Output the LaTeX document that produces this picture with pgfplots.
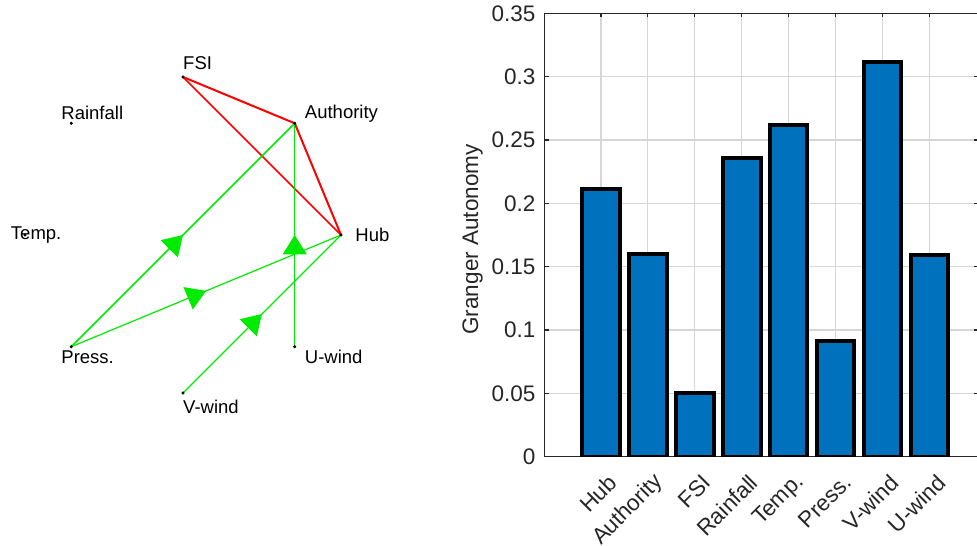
\documentclass[border=0pt]{standalone}
\usepackage{pgfplots}
\pgfplotsset{compat=1.18}
\usepackage{fontspec}
\setmainfont{Liberation Sans}
\usetikzlibrary{arrows.meta,decorations.markings}

\definecolor{barblue}{RGB}{0,114,189}
\definecolor{axgray}{RGB}{38,38,38}
\definecolor{gridgray}{RGB}{214,214,214}
\definecolor{edgered}{RGB}{255,0,0}
\definecolor{edgegreen}{RGB}{0,235,0}

% grid below the bars, ticks and axis lines above them
\pgfplotsset{
  layers/gridbelow/.define layer set={
    axis background,axis grid,pre main,main,axis ticks,axis lines,
    axis tick labels,axis descriptions,axis foreground}{},
}

\tikzset{
  midarrow/.style={postaction={decorate},
    decoration={markings,
      mark=at position 0.5 with {\arrow{Triangle[length=19.5pt,width=24pt]}}}},
  nodelabel/.style={anchor=west, inner sep=0pt, text=black,
    font=\fontsize{18.5}{22}\selectfont},
}

\begin{document}
\begin{tikzpicture}

% ---------------- causal network, nodes on the unit circle ----------------
\begin{axis}[
  at={(25pt,153pt)}, anchor=south west, scale only axis,
  width=316pt, height=316pt,
  xmin=-1, xmax=1, ymin=-1, ymax=1,
  hide axis, clip=false]
  % undirected links
  \addplot[edgered, line width=2pt]   coordinates {(0,1) (0.7071,0.7071)};
  \addplot[edgered, line width=2pt]   coordinates {(0.7071,0.7071) (1,0)};
  \addplot[edgered, line width=1.5pt] coordinates {(0,1) (1,0)};
  % directed links (arrow head at the middle)
  \addplot[edgegreen, line width=1.7pt, midarrow] coordinates {(-0.7071,-0.7071) (0.7071,0.7071)};
  \addplot[edgegreen, line width=1.1pt, midarrow] coordinates {(0.7071,-0.7071) (0.7071,0.7071)};
  \addplot[edgegreen, line width=1.2pt, midarrow] coordinates {(-0.7071,-0.7071) (1,0)};
  \addplot[edgegreen, line width=1.1pt, midarrow] coordinates {(0,-1) (1,0)};
  % nodes
  \addplot[only marks, mark=*, mark size=1.3pt, black] coordinates {
    (1,0) (0.7071,0.7071) (0,1) (-0.7071,0.7071)
    (-1,0) (-0.7071,-0.7071) (0,-1) (0.7071,-0.7071)};
  % node names
  \node[nodelabel] at (axis cs:1.09,0)            {Hub};
  \node[nodelabel] at (axis cs:0.7707,0.7707)     {Authority};
  \node[nodelabel] at (axis cs:0,1.09)            {FSI};
  \node[nodelabel] at (axis cs:-0.7707,0.7707)    {Rainfall};
  \node[nodelabel] at (axis cs:-1.09,0)           {Temp.};
  \node[nodelabel] at (axis cs:-0.7707,-0.7707)   {Press.};
  \node[nodelabel] at (axis cs:0,-1.09)           {V-wind};
  \node[nodelabel] at (axis cs:0.7707,-0.7707)    {U-wind};
\end{axis}

% ---------------- Granger autonomy per variable ----------------
\begin{axis}[
  set layers=gridbelow,
  at={(544.5pt,89.3pt)}, anchor=south west, scale only axis,
  width=433.5pt, height=443.3pt,
  xmin=-0.2, xmax=9.03, ymin=0, ymax=0.35,
  ybar, bar width=37.5pt,
  xtick={1,2,3,4,5,6,7,8},
  xticklabels={Hub,Authority,FSI,Rainfall,Temp.,Press.,V-wind,U-wind},
  ytick={0,0.05,0.1,0.15,0.2,0.25,0.3,0.35},
  yticklabels={0,0.05,0.1,0.15,0.2,0.25,0.3,0.35},
  grid=major,
  major grid style={gridgray, line width=1.3pt},
  axis line style={axgray, line width=1.3pt},
  every tick/.style={axgray, line width=1.3pt},
  tick align=inside, major tick length=4pt,
  ticklabel style={font=\fontsize{22.5}{26}\selectfont, text=axgray},
  yticklabel style={inner sep=0pt, xshift=-9pt},
  xticklabel style={xshift=12pt, yshift=-22pt, rotate=45, anchor=east, inner sep=0pt},
  ylabel={Granger Autonomy},
  ylabel style={font=\fontsize{22.5}{26}\selectfont, text=axgray,
    at={(axis description cs:-0.166,0.49)}, anchor=center},
]
  \addplot[fill=barblue, draw=black, line width=4pt] coordinates {
    (1,0.211) (2,0.160) (3,0.050) (4,0.236)
    (5,0.262) (6,0.091) (7,0.312) (8,0.159)};
\end{axis}

% page frame
\pgfresetboundingbox
\path[use as bounding box] (0,0) rectangle (977pt,546pt);
\end{tikzpicture}
\end{document}
